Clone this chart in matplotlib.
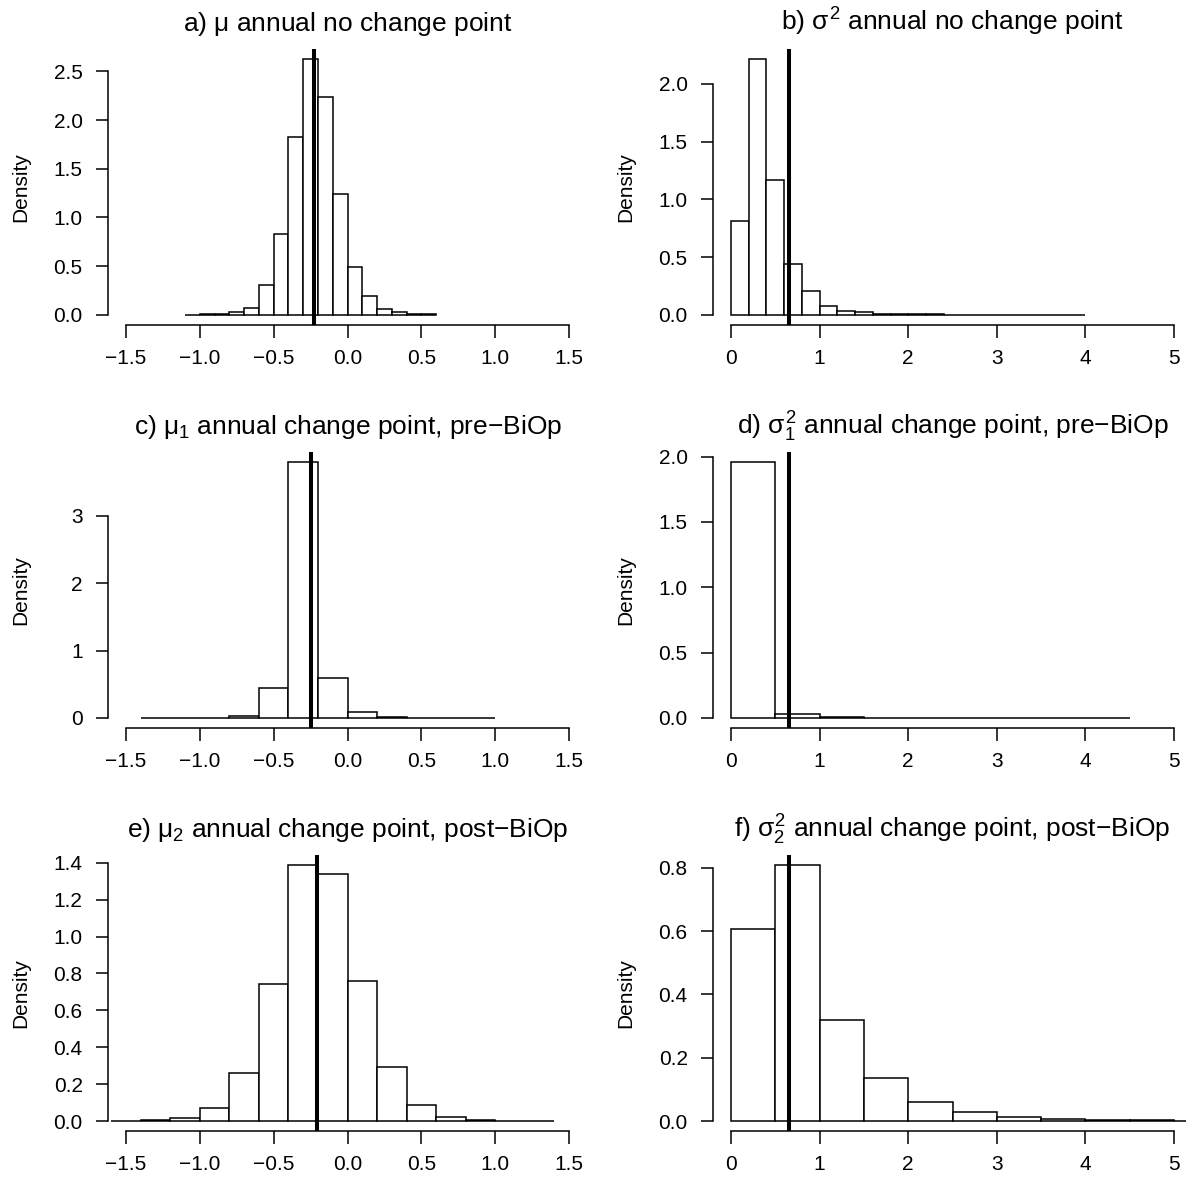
import numpy as np
import matplotlib
matplotlib.use('Agg')
import matplotlib.pyplot as plt

plt.rcParams['font.family'] = ['Liberation Sans', 'DejaVu Sans']
plt.rcParams['mathtext.fontset'] = 'custom'
plt.rcParams['mathtext.rm'] = 'Liberation Sans'
plt.rcParams['mathtext.it'] = 'Liberation Sans'
plt.rcParams['mathtext.bf'] = 'Liberation Sans:bold'
plt.rcParams['axes.unicode_minus'] = True

# ---------------- data ----------------
a_title = r'a) $\mu$ annual no change point'
a_edges = [-1.1, -1.0, -0.9, -0.8, -0.7, -0.6, -0.5, -0.4, -0.3, -0.2, -0.1,
           0.0, 0.1, 0.2, 0.3, 0.4, 0.5, 0.6]
a_density = [0.002, 0.004, 0.010, 0.030, 0.070, 0.306, 0.831, 1.824, 2.630,
             2.242, 1.240, 0.494, 0.196, 0.062, 0.024, 0.007, 0.003]
a_line = -0.23
a_xticks = [-1.5, -1.0, -0.5, 0.0, 0.5, 1.0, 1.5]
a_xlabels = ['\u22121.5', '\u22121.0', '\u22120.5', '0.0', '0.5', '1.0', '1.5']
a_yticks = [0.0, 0.5, 1.0, 1.5, 2.0, 2.5]
a_ylabels = ['0.0', '0.5', '1.0', '1.5', '2.0', '2.5']

b_title = r'b) $\sigma^2$ annual no change point'
b_edges = [0.0, 0.2, 0.4, 0.6, 0.8, 1.0, 1.2, 1.4, 1.6, 1.8, 2.0, 2.2, 2.4,
           2.6, 2.8, 3.0, 3.2, 3.4, 3.6, 3.8, 4.0]
b_density = [0.808, 2.217, 1.164, 0.440, 0.205, 0.075, 0.032, 0.020, 0.009,
             0.006, 0.004, 0.003, 0.002, 0.002, 0.001, 0.001, 0.001, 0.0005,
             0.0005, 0.0005]
b_line = 0.65
b_xticks = [0, 1, 2, 3, 4, 5]
b_xlabels = ['0', '1', '2', '3', '4', '5']
b_yticks = [0.0, 0.5, 1.0, 1.5, 2.0]
b_ylabels = ['0.0', '0.5', '1.0', '1.5', '2.0']

c_title = r'c) $\mu_1$ annual change point, pre' + '\u2212BiOp'
c_edges = [-1.4, -1.2, -1.0, -0.8, -0.6, -0.4, -0.2, 0.0, 0.2, 0.4, 0.6, 0.8, 1.0]
c_density = [0.001, 0.002, 0.004, 0.030, 0.440, 3.800, 0.593, 0.094, 0.015,
             0.005, 0.003, 0.002]
c_line = -0.25
c_xticks = [-1.5, -1.0, -0.5, 0.0, 0.5, 1.0, 1.5]
c_xlabels = ['\u22121.5', '\u22121.0', '\u22120.5', '0.0', '0.5', '1.0', '1.5']
c_yticks = [0, 1, 2, 3]
c_ylabels = ['0', '1', '2', '3']

d_title = r'd) $\sigma_1^2$ annual change point, pre' + '\u2212BiOp'
d_edges = [0.0, 0.5, 1.0, 1.5, 2.0, 2.5, 3.0, 3.5, 4.0, 4.5]
d_density = [1.959, 0.028, 0.008, 0.003, 0.001, 0.001, 0.0005, 0.0005, 0.001]
d_line = 0.65
d_xticks = [0, 1, 2, 3, 4, 5]
d_xlabels = ['0', '1', '2', '3', '4', '5']
d_yticks = [0.0, 0.5, 1.0, 1.5, 2.0]
d_ylabels = ['0.0', '0.5', '1.0', '1.5', '2.0']

e_title = r'e) $\mu_2$ annual change point, post' + '\u2212BiOp'
e_edges = [-1.6, -1.4, -1.2, -1.0, -0.8, -0.6, -0.4, -0.2, 0.0, 0.2, 0.4, 0.6,
           0.8, 1.0, 1.2, 1.4]
e_density = [0.002, 0.005, 0.018, 0.074, 0.260, 0.745, 1.387, 1.338, 0.761,
             0.291, 0.085, 0.024, 0.007, 0.003, 0.002]
e_line = -0.21
e_xticks = [-1.5, -1.0, -0.5, 0.0, 0.5, 1.0, 1.5]
e_xlabels = ['\u22121.5', '\u22121.0', '\u22120.5', '0.0', '0.5', '1.0', '1.5']
e_yticks = [0.0, 0.2, 0.4, 0.6, 0.8, 1.0, 1.2, 1.4]
e_ylabels = ['0.0', '0.2', '0.4', '0.6', '0.8', '1.0', '1.2', '1.4']

f_title = r'f) $\sigma_2^2$ annual change point, post' + '\u2212BiOp'
f_edges = [0.0, 0.5, 1.0, 1.5, 2.0, 2.5, 3.0, 3.5, 4.0, 4.5, 5.0, 5.5]
f_density = [0.608, 0.808, 0.320, 0.137, 0.060, 0.028, 0.013, 0.008, 0.003,
             0.003, 0.001]
f_line = 0.65
f_xticks = [0, 1, 2, 3, 4, 5]
f_xlabels = ['0', '1', '2', '3', '4', '5']
f_yticks = [0.0, 0.2, 0.4, 0.6, 0.8]
f_ylabels = ['0.0', '0.2', '0.4', '0.6', '0.8']

panels = [
    (a_title, a_edges, a_density, a_line, a_xticks, a_xlabels, a_yticks, a_ylabels),
    (b_title, b_edges, b_density, b_line, b_xticks, b_xlabels, b_yticks, b_ylabels),
    (c_title, c_edges, c_density, c_line, c_xticks, c_xlabels, c_yticks, c_ylabels),
    (d_title, d_edges, d_density, d_line, d_xticks, d_xlabels, d_yticks, d_ylabels),
    (e_title, e_edges, e_density, e_line, e_xticks, e_xlabels, e_yticks, e_ylabels),
    (f_title, f_edges, f_density, f_line, f_xticks, f_xlabels, f_yticks, f_ylabels),
]

# ---------------- layout ----------------
W, H = 1186, 1184
fig = plt.figure(figsize=(W / 100, H / 100), dpi=100)

col_left_px = [108.3, 713.3]
ax_w_px = 478.5
row_bottom_px = [325.0, 728.2, 1131.4]
ax_h_px = 276.5

LW = 1.1
TICK_FS = 15
TITLE_FS = 19

for i, (title, edges, dens, vline, xt, xl, yt, yl) in enumerate(panels):
    r, c = divmod(i, 2)
    left = col_left_px[c] / W
    bottom = 1 - row_bottom_px[r] / H
    ax = fig.add_axes([left, bottom, ax_w_px / W, ax_h_px / H])

    edges = np.asarray(edges, dtype=float)
    dens = np.asarray(dens, dtype=float)
    ax.bar(edges[:-1], dens, width=np.diff(edges), align='edge',
           facecolor='white', edgecolor='black', linewidth=LW, zorder=2)
    ax.axvline(vline, color='black', linewidth=2.9, zorder=3)

    xr = xt[-1] - xt[0]
    ax.set_xlim(xt[0] - 0.04 * xr, xt[-1] + 0.04 * xr)
    ymax = dens.max()
    ax.set_ylim(-0.04 * ymax, 1.04 * ymax)

    for s in ('top', 'right'):
        ax.spines[s].set_visible(False)
    ax.spines['left'].set_bounds(yt[0], yt[-1])
    ax.spines['bottom'].set_bounds(xt[0], xt[-1])
    for s in ('left', 'bottom'):
        ax.spines[s].set_linewidth(LW)

    ax.set_xticks(xt)
    ax.set_xticklabels(xl)
    ax.set_yticks(yt)
    ax.set_yticklabels(yl)
    ax.tick_params(axis='both', direction='out', length=9, width=LW,
                   labelsize=TICK_FS, colors='black')
    ax.tick_params(axis='x', pad=8)
    ax.tick_params(axis='y', pad=9.4)

    ax.set_title(title, fontsize=TITLE_FS, pad=12.6)

    fig.text((col_left_px[c] - 88) / W,
             1 - (row_bottom_px[r] - ax_h_px / 2) / H,
             'Density', rotation=90, ha='center', va='center',
             fontsize=TICK_FS)

fig.savefig('out.png', dpi=100)
